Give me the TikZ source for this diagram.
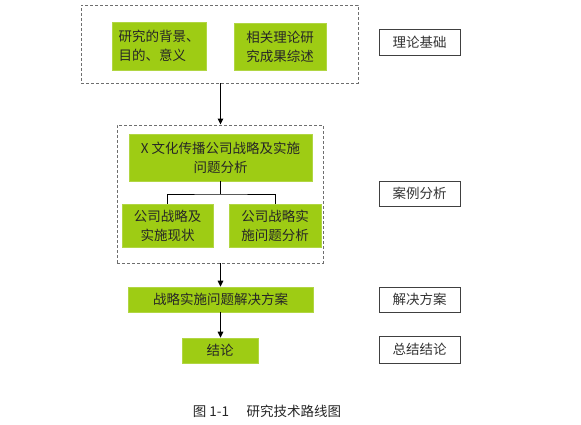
\documentclass[tikz,border=0pt]{standalone}
\usepackage{fontspec}
\newfontfamily\cjk{Noto Sans CJK SC}
\usetikzlibrary{arrows.meta}
\definecolor{boxgreen}{RGB}{158,204,20}
\definecolor{dashgray}{RGB}{110,110,110}
\tikzset{
  gbox/.style={fill=boxgreen, draw=boxgreen!80!white, line width=0.6pt, inner sep=0pt,
    font=\cjk\fontsize{13.5}{19}\selectfont, text=black!85},
  dashbox/.style={draw=dashgray, dash pattern=on 3pt off 2pt, line width=0.9pt, inner sep=0pt},
  labbox/.style={draw=black!75, line width=0.8pt, minimum width=81pt, inner sep=0pt,
    font=\cjk\fontsize{13.5}{15}\selectfont, text=black!80},
  arr/.style={line width=1.1pt, -{Triangle[length=6pt,width=5.5pt]}},
  conn/.style={line width=1pt}
}
\begin{document}
\begin{tikzpicture}[x=1pt,y=-1pt]
\useasboundingbox (0,0) rectangle (581,425);
% group 1
\node[dashbox, minimum width=277pt, minimum height=78pt] (g1) at (219.5,44) {};
\node[gbox, minimum width=94pt, minimum height=48pt, align=left] (b1) at (159,46) {研究的背景、\\目的、意义};
\node[gbox, minimum width=92pt, minimum height=47pt, align=left] (b2) at (280,46.5) {相关理论研\\究成果综述};
% group 2
\node[dashbox, minimum width=206pt, minimum height=138pt] (g2) at (220,194) {};
\node[gbox, minimum width=183pt, minimum height=47pt, align=center] (big) at (220.5,157.5) {X 文化传播公司战略及实施\\问题分析};
\node[gbox, minimum width=91pt, minimum height=43pt, align=center] (s1) at (167.5,225.5) {公司战略及\\实施现状};
\node[gbox, minimum width=92pt, minimum height=43pt, align=center] (s2) at (275,225.5) {公司战略实\\施问题分析};
% solution and conclusion
\node[gbox, minimum width=185pt, minimum height=25pt] (sol) at (220.5,299.5) {战略实施问题解决方案};
\node[gbox, minimum width=76pt, minimum height=25pt] (con) at (220,350.5) {结论};
% labels
\node[labbox, minimum height=26pt] (l1) at (419.5,42) {理论基础};
\node[labbox, minimum height=25pt] (l2) at (419.5,193.5) {案例分析};
\node[labbox, minimum height=25pt] (l3) at (419.5,299.5) {解决方案};
\node[labbox, minimum height=27pt] (l4) at (419.5,349.5) {总结结论};
% connectors
\coordinate (j) at (220.5,194);
\draw[arr] (g1.south -| j) -- (g2.north -| j);
\draw[conn] (big.south) -- (j);
\draw[conn] (s1.north) |- (j) -| (s2.north);
\draw[arr] (g2.south -| j) -- (sol.north -| j);
\draw[arr] (sol.south -| j) -- (con.north -| j);
% caption
\node[font=\cjk\fontsize{13.5}{15}\selectfont, text=black!85] (cap) at (267,411) {图 1-1\hspace{1.3em}研究技术路线图};
\end{tikzpicture}
\end{document}
